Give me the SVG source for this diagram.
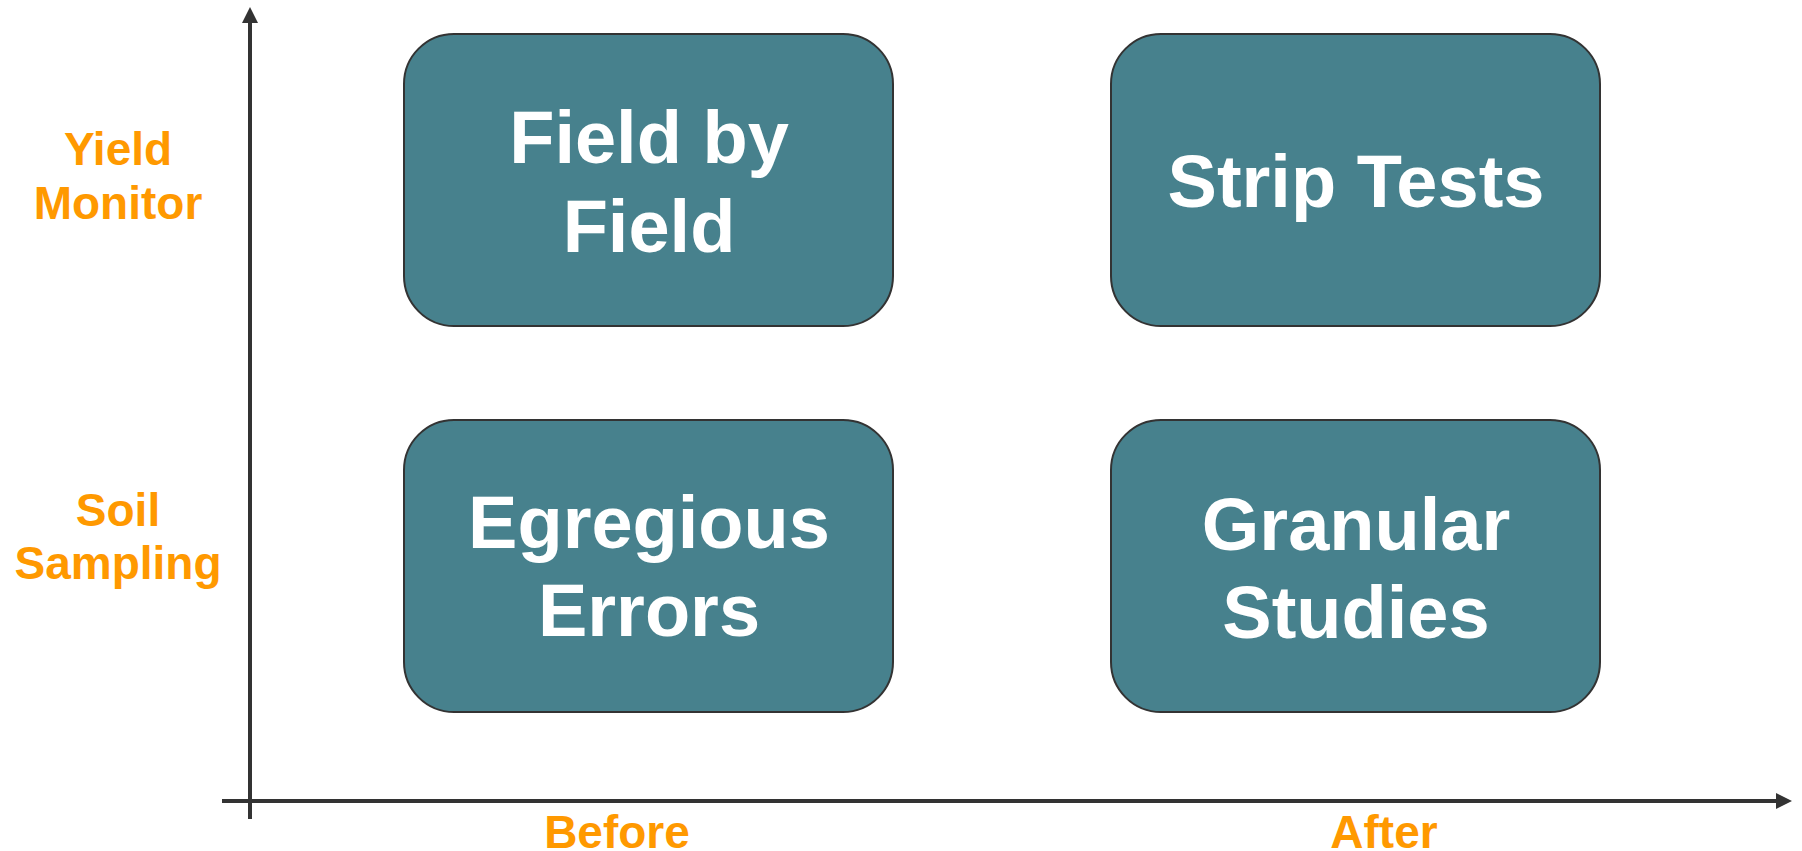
<svg xmlns="http://www.w3.org/2000/svg" width="1802" height="851" viewBox="0 0 1802 851">
<style>
.box{fill:#47818d;stroke:#333333;stroke-width:2}
.bt{font-family:"Liberation Sans",Arial,sans-serif;font-weight:bold;font-size:74px;fill:#ffffff;text-anchor:middle}
.lab{font-family:"Liberation Sans",Arial,sans-serif;font-weight:bold;font-size:46px;fill:#ff9900;text-anchor:middle}
.ax{stroke:#333333;stroke-width:4;fill:none}
</style>
<defs>
<marker id="ah" viewBox="0 0 16 16" refX="2" refY="8" markerWidth="16" markerHeight="16" markerUnits="userSpaceOnUse" orient="auto">
<path d="M0,0 L16,8 L0,16 Z" fill="#333333"/>
</marker>
</defs>
<rect width="1802" height="851" fill="#ffffff"/>
<g id="connectors">
<line class="ax" x1="250" y1="819" x2="250" y2="21" marker-end="url(#ah)"/>
<line class="ax" x1="222" y1="801" x2="1778" y2="801" marker-end="url(#ah)"/>
</g>
<g id="label-yield"><text class="lab" x="118" y="165">Yield</text><text class="lab" x="118" y="219">Monitor</text></g>
<g id="label-soil"><text class="lab" x="118" y="526">Soil</text><text class="lab" x="118" y="579">Sampling</text></g>
<g id="label-before"><text class="lab" x="617" y="848">Before</text></g>
<g id="label-after"><text class="lab" x="1384" y="848">After</text></g>
<g id="node-field"><rect class="box" x="404" y="34" width="489" height="292" rx="50"/><text class="bt" x="649" y="163">Field by</text><text class="bt" x="649" y="252">Field</text></g>
<g id="node-strip"><rect class="box" x="1111" y="34" width="489" height="292" rx="50"/><text class="bt" x="1356" y="207">Strip Tests</text></g>
<g id="node-egregious"><rect class="box" x="404" y="420" width="489" height="292" rx="50"/><text class="bt" x="649" y="548">Egregious</text><text class="bt" x="649" y="636">Errors</text></g>
<g id="node-granular"><rect class="box" x="1111" y="420" width="489" height="292" rx="50"/><text class="bt" x="1356" y="550">Granular</text><text class="bt" x="1356" y="638">Studies</text></g>
</svg>
